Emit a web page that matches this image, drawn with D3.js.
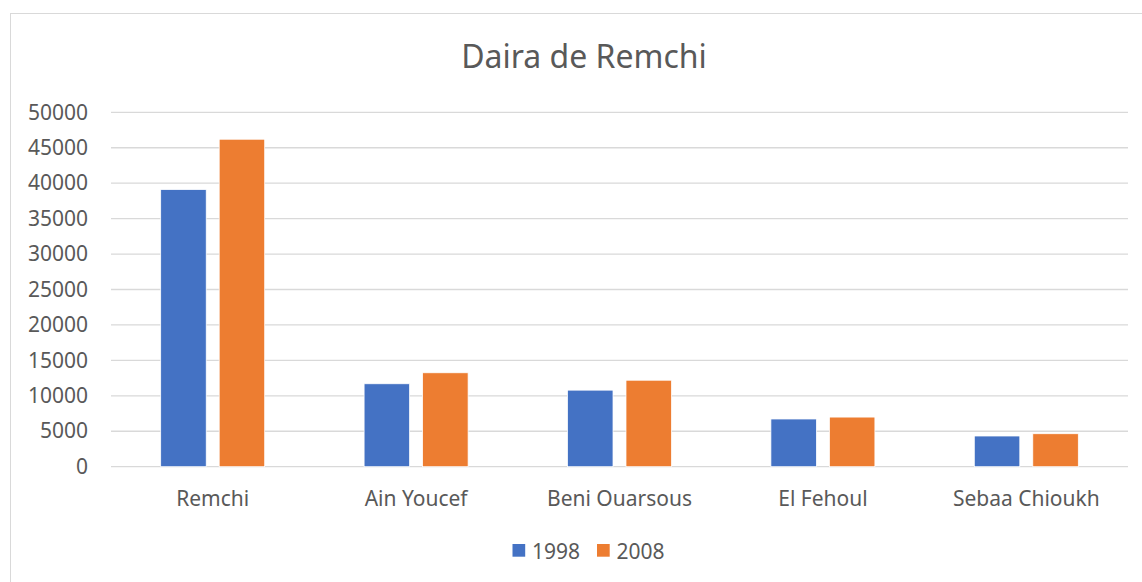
<!DOCTYPE html>
<html>
<head>
<meta charset="utf-8">
<script src="https://cdn.jsdelivr.net/npm/d3@7"></script>
<style>
    body { margin: 0; background: #ffffff; }
    text { font-family: "Noto Sans", "Open Sans", sans-serif; fill: #595959; }
</style>
</head>
<body>
<div id="chart"></div>
<script>

    // Data
    var communes = ['Remchi', 'Ain Youcef', 'Beni Ouarsous', 'El Fehoul', 'Sebaa Chioukh'];
    var years = ['1998', '2008'];
    var pop1998 = [39100, 11700, 10800, 6730, 4330];
    var pop2008 = [46200, 13250, 12200, 7000, 4650];
    var yTicks = [0, 5000, 10000, 15000, 20000, 25000, 30000, 35000, 40000, 45000, 50000];

    var W = 1142, H = 582;
    var plot = {left: 111, right: 1128, top: 112.3, bottom: 466.7};
    var colors = ['#4472C4', '#ED7D31'];

    var svg = d3.select('#chart').append('svg')
                .attr('width', W)
                .attr('height', H);

    // chart frame (right and bottom edges fall outside the picture)
    svg.append('rect')
       .attr('x', 10.5)
       .attr('y', 13.5)
       .attr('width', W + 20)
       .attr('height', H + 20)
       .attr('fill', 'none')
       .attr('stroke', '#d9d9d9')
       .attr('stroke-width', 1);

    // scales
    var xScale0 = d3.scaleBand()
                    .domain(communes)
                    .range([plot.left, plot.right])
                    .padding(0);

    var groupW = 104;
    var xScale1 = d3.scaleBand()
                    .domain(years)
                    .range([(xScale0.bandwidth() - groupW) / 2, (xScale0.bandwidth() + groupW) / 2])
                    .paddingInner(0.222)
                    .paddingOuter(0);

    var yScale = d3.scaleLinear()
                   .domain([0, 50000])
                   .range([plot.bottom, plot.top]);

    // gridlines
    svg.append('g')
       .selectAll('line')
       .data(yTicks)
       .enter()
       .append('line')
       .attr('x1', plot.left)
       .attr('x2', plot.right)
       .attr('y1', function(d) { return yScale(d); })
       .attr('y2', function(d) { return yScale(d); })
       .attr('stroke', '#d9d9d9')
       .attr('stroke-width', 1.3);

    // y axis labels
    var yAxis = d3.axisLeft(yScale)
                  .tickValues(yTicks)
                  .tickFormat(d3.format('d'))
                  .tickSize(0)
                  .tickPadding(23);

    var yG = svg.append('g')
                .attr('transform', 'translate(' + plot.left + ',0)')
                .call(yAxis);
    yG.select('.domain').remove();
    yG.selectAll('text')
      .attr('font-size', '21px')
      .attr('fill', '#595959')
      .attr('font-family', '"Noto Sans", sans-serif');

    // bars
    var rows = communes.map(function(c, i) {
        return {name: c, values: [pop1998[i], pop2008[i]]};
    });

    var band = svg.append('g')
                  .selectAll('g')
                  .data(rows)
                  .enter().append('g')
                  .attr('transform', function(d) { return 'translate(' + xScale0(d.name) + ',0)'; });

    band.selectAll('rect')
        .data(function(d) { return years.map(function(y, i) { return {key: y, value: d.values[i], i: i}; }); })
        .enter()
        .append('rect')
        .attr('x', function(d) { return xScale1(d.key); })
        .attr('y', function(d) { return yScale(d.value); })
        .attr('width', xScale1.bandwidth())
        .attr('height', function(d) { return plot.bottom - yScale(d.value); })
        .attr('fill', function(d) { return colors[d.i]; })
        .attr('stroke', '#ffffff')
        .attr('stroke-width', 0.75);

    // x axis labels
    var xAxis = d3.axisBottom(xScale0)
                  .tickSize(0)
                  .tickPadding(24);

    var xG = svg.append('g')
                .attr('transform', 'translate(0,' + plot.bottom + ')')
                .call(xAxis);
    xG.select('.domain').remove();
    xG.selectAll('text')
      .attr('font-size', '21px')
      .attr('fill', '#595959')
      .attr('font-family', '"Noto Sans", sans-serif');

    // title
    svg.append('text')
       .attr('x', 584)
       .attr('y', 68)
       .attr('text-anchor', 'middle')
       .attr('font-size', '32px')
       .text('Daira de Remchi');

    // legend
    var legendX = [512.5, 597];
    var legend = svg.append('g')
                    .selectAll('g')
                    .data(years)
                    .enter().append('g')
                    .attr('transform', function(d, i) { return 'translate(' + legendX[i] + ',544)'; });

    legend.append('rect')
          .attr('width', 12.7)
          .attr('height', 12.7)
          .attr('fill', function(d, i) { return colors[i]; });

    legend.append('text')
          .attr('x', 19.5)
          .attr('y', 14.5)
          .attr('font-size', '21px')
          .text(function(d) { return d; });

</script>
</body>
</html>
